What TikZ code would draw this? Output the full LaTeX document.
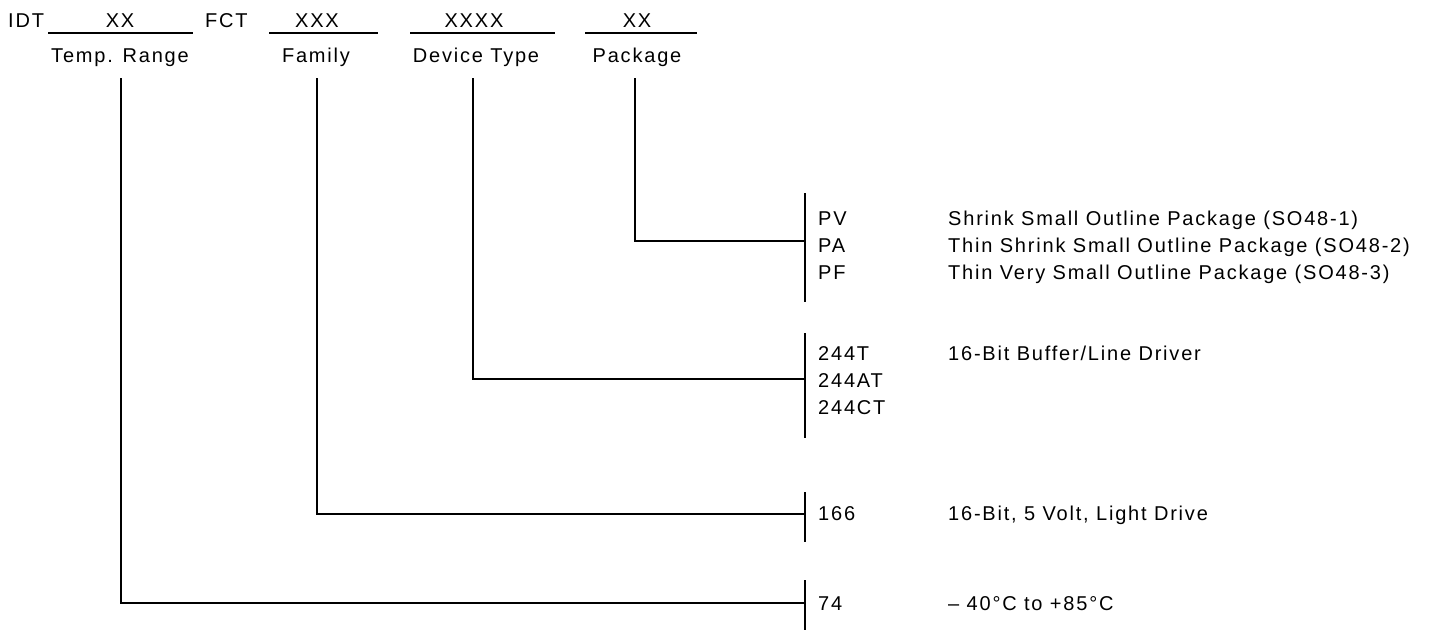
\documentclass[tikz,border=0pt]{standalone}
\usepackage{fontspec}
\setmainfont{Liberation Sans}[LetterSpace=9]
\begin{document}
\begin{tikzpicture}[x=1pt,y=-1pt,
  txt/.style={inner sep=0pt,font=\fontsize{20}{22}\selectfont},
  lft/.style={txt,anchor=base west},
  ctr/.style={txt,anchor=base},
  ln/.style={line width=1.7pt,black}]
\useasboundingbox (0,0) rectangle (1435,630);
% header
\node[lft] (idt) at (8,27) {IDT};
\node[ctr] (xx1) at (120,27) {XX};
\node[lft] (fct) at (205,27) {FCT};
\node[ctr] (xxx) at (317,27) {XXX};
\node[ctr] (xxxx) at (474,27) {XXXX};
\node[ctr] (xx2) at (637,27) {XX};
\node[ctr] (temp) at (120,62) {Temp. Range};
\node[ctr] (fam) at (316,62) {Family};
\node[ctr] (dev) at (476,62) {Device Type};
\node[ctr] (pkg) at (637,62) {Package};
\coordinate (u1a) at (48,33); \coordinate (u1b) at (193,33);
\coordinate (u2a) at (269,33); \coordinate (u2b) at (378,33);
\coordinate (u3a) at (410,33); \coordinate (u3b) at (555,33);
\coordinate (u4a) at (585,33); \coordinate (u4b) at (697,33);
\draw[ln] (u1a) -- (u1b);
\draw[ln] (u2a) -- (u2b);
\draw[ln] (u3a) -- (u3b);
\draw[ln] (u4a) -- (u4b);
% tick tops
\coordinate (tT) at (121,78);
\coordinate (fT) at (317,78);
\coordinate (dT) at (473,78);
\coordinate (pT) at (635,78);
% bars
\coordinate (pb1) at (805,193); \coordinate (pb2) at (805,302);
\coordinate (db1) at (805,333); \coordinate (db2) at (805,438);
\coordinate (fb1) at (805,492); \coordinate (fb2) at (805,542);
\coordinate (tb1) at (805,580); \coordinate (tb2) at (805,630);
\draw[ln] (pb1) -- (pb2);
\draw[ln] (db1) -- (db2);
\draw[ln] (fb1) -- (fb2);
\draw[ln] (tb1) -- (tb2);
\coordinate (pJ) at (805,241);
\coordinate (dJ) at (805,379);
\coordinate (fJ) at (805,514);
\coordinate (tJ) at (805,603);
\draw[ln] (pT) |- (pJ);
\draw[ln] (dT) |- (dJ);
\draw[ln] (fT) |- (fJ);
\draw[ln] (tT) |- (tJ);
% codes
\node[lft] (pv) at (818,225) {PV};
\node[lft] (pa) at (818,252) {PA};
\node[lft] (pf) at (818,279) {PF};
\node[lft] (pvd) at (948,225) {Shrink Small Outline Package (SO48-1)};
\node[lft] (pad) at (948,252) {Thin Shrink Small Outline Package (SO48-2)};
\node[lft] (pfd) at (948,279) {Thin Very Small Outline Package (SO48-3)};
\node[lft] (c1) at (818,360) {244T};
\node[lft] (c2) at (818,387) {244AT};
\node[lft] (c3) at (818,414) {244CT};
\node[lft] (c1d) at (948,360) {16-Bit Buffer/Line Driver};
\node[lft] (f1) at (818,520) {166};
\node[lft] (f1d) at (948,520) {16-Bit, 5 Volt, Light Drive};
\node[lft] (t1) at (818,610) {74};
\node[lft] (t1d) at (948,610) {– 40°C to +85°C};
\end{tikzpicture}
\end{document}
